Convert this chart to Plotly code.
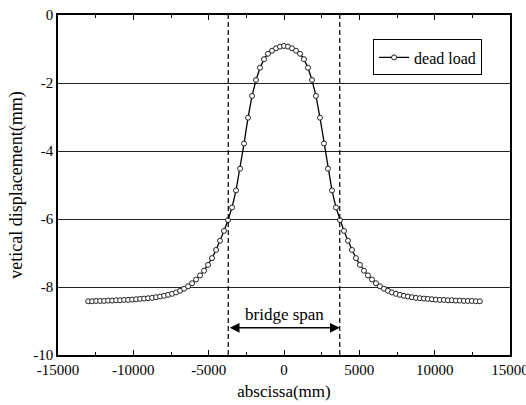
import plotly.graph_objects as go

# abscissa (mm) of the computed points
abscissa = [-13000, -12735, -12469, -12204, -11939, -11673, -11408, -11143, -10878, -10612,
            -10347, -10082, -9816, -9551, -9286, -9020, -8755, -8490, -8224, -7959,
            -7694, -7429, -7163, -6898, -6633, -6367, -6102, -5837, -5571, -5306,
            -5041, -4776, -4510, -4245, -3980, -3714, -3449, -3184, -2918, -2653,
            -2388, -2122, -1857, -1592, -1327, -1061, -796, -531, -265, 0,
            265, 531, 796, 1061, 1327, 1592, 1857, 2122, 2388, 2653,
            2918, 3184, 3449, 3714, 3980, 4245, 4510, 4776, 5041, 5306,
            5571, 5837, 6102, 6367, 6633, 6898, 7163, 7429, 7694, 7959,
            8224, 8490, 8755, 9020, 9286, 9551, 9816, 10082, 10347, 10612,
            10878, 11143, 11408, 11673, 11939, 12204, 12469, 12735, 13000]

# vertical displacement (mm) under dead load
dead_load = [-8.42, -8.42, -8.41, -8.41, -8.41, -8.40, -8.40, -8.39, -8.39, -8.38,
             -8.38, -8.37, -8.36, -8.35, -8.34, -8.33, -8.32, -8.30, -8.28, -8.26,
             -8.23, -8.20, -8.16, -8.11, -8.05, -7.98, -7.89, -7.78, -7.66, -7.52,
             -7.35, -7.15, -6.91, -6.64, -6.35, -6.03, -5.66, -5.16, -4.52, -3.78,
             -3.02, -2.38, -1.91, -1.55, -1.30, -1.14, -1.05, -0.98, -0.93, -0.91,
             -0.93, -0.98, -1.05, -1.14, -1.30, -1.55, -1.91, -2.38, -3.02, -3.78,
             -4.52, -5.16, -5.66, -6.03, -6.35, -6.64, -6.91, -7.15, -7.35, -7.52,
             -7.66, -7.78, -7.89, -7.98, -8.05, -8.11, -8.16, -8.20, -8.23, -8.26,
             -8.28, -8.30, -8.32, -8.33, -8.34, -8.35, -8.36, -8.37, -8.38, -8.38,
             -8.39, -8.39, -8.40, -8.40, -8.41, -8.41, -8.41, -8.42, -8.42]

span_limits = [-3700, 3700]
span_arrow_y = -9.2
span_label_y = -8.82
span_label = "bridge span"

x_tickvals = [-15000, -10000, -5000, 0, 5000, 10000, 15000]
x_ticktext = ["-15000", "-10000", "-5000", "0", "5000", "10000", "15000"]
y_tickvals = [0, -2, -4, -6, -8, -10]
y_ticktext = ["0", "-2", "-4", "-6", "-8", "-10"]

FONT = "Times New Roman, Liberation Serif, DejaVu Serif, serif"

fig = go.Figure()
fig.add_trace(go.Scatter(
    x=abscissa, y=dead_load, mode="lines+markers", name="dead load",
    line=dict(color="black", width=1.3),
    marker=dict(symbol="circle", size=5, color="white",
                line=dict(color="#222", width=1)),
))

for xv in span_limits:
    fig.add_shape(type="line", x0=xv, x1=xv, y0=0, y1=1, xref="x", yref="paper",
                  line=dict(color="black", width=1.2, dash="5px,3px"))

fig.add_annotation(x=span_limits[1], y=span_arrow_y, ax=span_limits[0], ay=span_arrow_y,
                   xref="x", yref="y", axref="x", ayref="y", text="", showarrow=True,
                   arrowhead=2, arrowside="end+start", arrowsize=1.3, arrowwidth=1.5,
                   arrowcolor="black")
fig.add_annotation(x=(span_limits[0] + span_limits[1]) / 2, y=span_label_y, text=span_label,
                   showarrow=False, font=dict(family=FONT, size=17, color="black"))

fig.update_layout(
    width=526, height=405,
    margin=dict(l=58, r=16, t=15, b=50, autoexpand=False),
    paper_bgcolor="white", plot_bgcolor="white",
    font=dict(family=FONT, size=15, color="black"),
    showlegend=True,
    legend=dict(x=0.697, y=0.928, xanchor="left", yanchor="top",
                bgcolor="white", bordercolor="black", borderwidth=1,
                font=dict(family=FONT, size=16, color="black"),
                tracegroupgap=0, itemwidth=30),
)

fig.update_xaxes(
    range=[-15000, 15000], tickvals=x_tickvals, ticktext=x_ticktext,
    ticks="inside", ticklen=5, tickwidth=1, tickcolor="black",
    minor=dict(ticks="inside", dtick=2500, ticklen=3, tickcolor="black", tickwidth=1,
               showgrid=False),
    showgrid=False, zeroline=False, ticklabeloverflow="allow", automargin=False,
    showline=True, linecolor="black", linewidth=1.5, mirror="ticks",
    title=dict(text="abscissa(mm)", font=dict(family=FONT, size=17), standoff=8),
    tickfont=dict(family=FONT, size=15),
)
fig.update_yaxes(
    range=[-10, 0], tickvals=y_tickvals, ticktext=y_ticktext,
    ticks="", showgrid=True, gridcolor="#222", gridwidth=1.2, zeroline=False,
    automargin=False,
    showline=True, linecolor="black", linewidth=1.5, mirror=True,
    title=dict(text="vetical displacement(mm)", font=dict(family=FONT, size=18), standoff=6),
    tickfont=dict(family=FONT, size=15),
)

fig.write_html("out.html")
